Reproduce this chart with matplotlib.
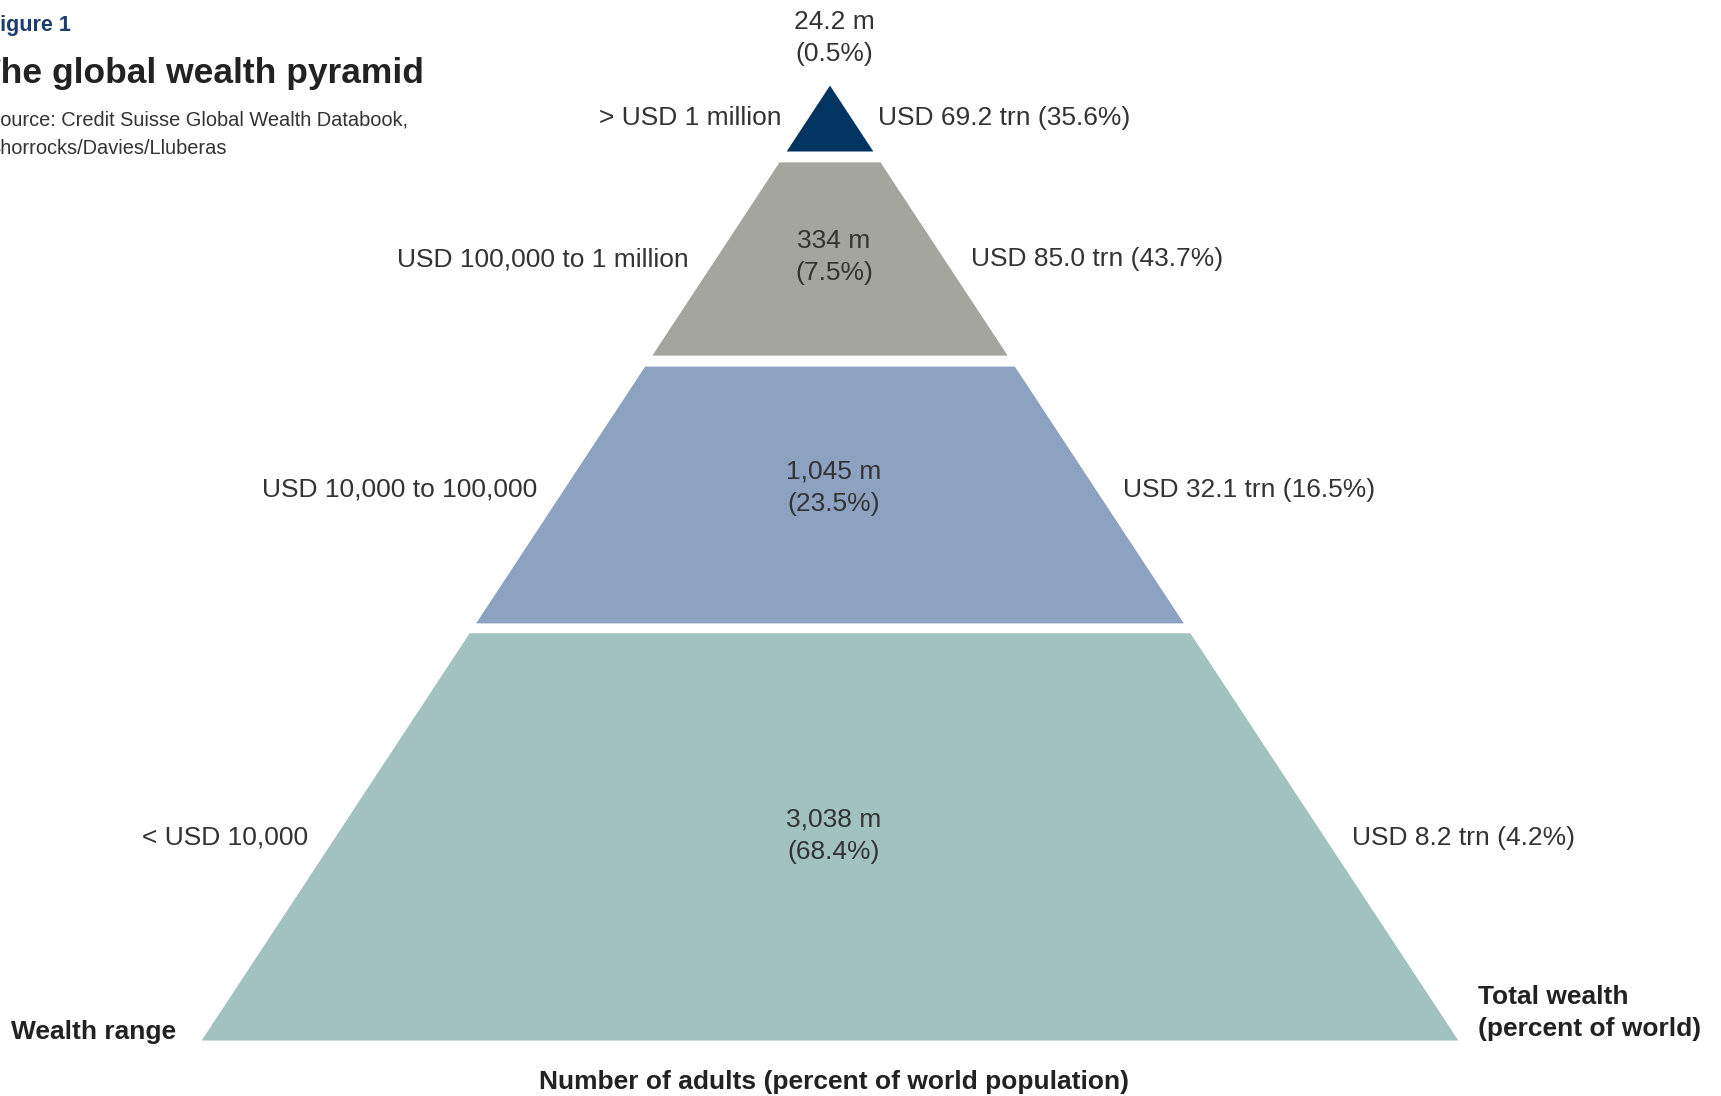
import matplotlib.pyplot as plt
from matplotlib.patches import Polygon

plt.rcParams['font.family'] = ['Liberation Sans', 'DejaVu Sans']

# ---- data ----
wealth_range = ['> USD 1 million', 'USD 100,000 to 1 million',
                'USD 10,000 to 100,000', '< USD 10,000']
adults_m     = [24.2, 334, 1045, 3038]
adults_pct   = [0.5, 7.5, 23.5, 68.4]
wealth_trn   = [69.2, 85.0, 32.1, 8.2]
wealth_pct   = [35.6, 43.7, 16.5, 4.2]

# ---- layout (pixel coords, y down) ----
W, H = 1721, 1096
CX, APEX_Y, SLOPE = 830, 85.6, 0.658
TIER_TOP    = [85.6, 162.4, 366.6, 633.3]
TIER_BOTTOM = [151.5, 355.6, 623.4, 1040.5]
LABEL_Y     = [118, 259, 490, 838]
GAP = 27
TIER_C = ['#023462', '#a3a59e', '#8da2c1', '#a2c2bf']
TEXT_C, NAVY_C = '#333333', '#1d3d6b'
FS, LS = 19, 1.45


def half_width(y):
    return SLOPE * (y - APEX_Y)


fig = plt.figure(figsize=(W / 100, H / 100), dpi=100)
ax = fig.add_axes([0, 0, 1, 1])
ax.set_xlim(0, W); ax.set_ylim(H, 0); ax.axis('off')

for i in range(len(wealth_range)):
    t, b = TIER_TOP[i], TIER_BOTTOM[i]
    pts = [(CX - half_width(t), t), (CX + half_width(t), t),
           (CX + half_width(b), b), (CX - half_width(b), b)]
    ax.add_patch(Polygon(pts, closed=True, facecolor=TIER_C[i], edgecolor='none'))

    y = LABEL_Y[i]
    ax.text(CX - half_width(y) - GAP, y, wealth_range[i], ha='right', va='center',
            fontsize=FS, color=TEXT_C)
    ax.text(CX + half_width(y) + GAP, y,
            f"USD {wealth_trn[i]:.1f} trn ({wealth_pct[i]:.1f}%)",
            ha='left', va='center', fontsize=FS, color=TEXT_C)
    inner = f"{adults_m[i]:,g} m\n({adults_pct[i]:.1f}%)"
    iy = 38 if i == 0 else y - 2
    ax.text(CX + 4, iy, inner, ha='center', va='center', fontsize=FS,
            color=TEXT_C, linespacing=LS)

# ---- titles and axis captions ----
ax.text(-13, 26, "Figure 1", ha='left', va='center', fontsize=15.5,
        fontweight='bold', color=NAVY_C)
ax.text(-21, 73, "The global wealth pyramid", ha='left', va='center',
        fontsize=25.5, fontweight='bold', color='#222222')
ax.text(-13, 120, "Source: Credit Suisse Global Wealth Databook,", ha='left',
        va='center', fontsize=14.4, color=TEXT_C)
ax.text(-13, 148, "Shorrocks/Davies/Lluberas", ha='left', va='center',
        fontsize=14.4, color=TEXT_C)

ax.text(11, 1032, "Wealth range", ha='left', va='center', fontsize=FS,
        fontweight='bold', color='#222222')
ax.text(1478, 1013, "Total wealth\n(percent of world)", ha='left', va='center',
        fontsize=FS, fontweight='bold', color='#222222', linespacing=LS)
ax.text(834, 1082, "Number of adults (percent of world population)", ha='center',
        va='center', fontsize=FS, fontweight='bold', color='#222222')

fig.savefig("out.png", dpi=100)
